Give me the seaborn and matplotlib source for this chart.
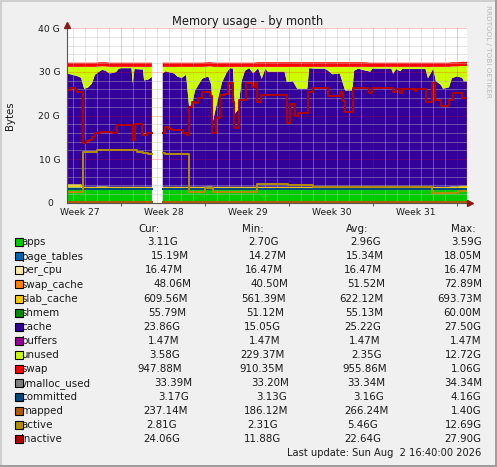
import matplotlib
matplotlib.use("Agg")
import matplotlib.pyplot as plt
from matplotlib import font_manager, ft2font
from matplotlib.patches import Rectangle
import numpy as np
import pandas as pd
import seaborn as sns

nan = np.nan

# ---- data (GB, days from the start of week 28) ----
stack_day = [-4.55, -4.1, -3.7, -3.35, -3.1, -2.8, -2.45, -2.2, -1.85, -1.6,
             -1.3, -1.0, -0.7, -0.45, -0.2, 0.0, 0.85, 0.95, 1.1, 1.8,
             1.9, 2.25, 2.55, 3.0, 3.45, 3.7, 4.05, 4.4, 4.7, 5.05,
             5.4, 5.65, 5.9, 6.15, 6.45, 6.75, 7.25, 7.5, 7.65, 7.8,
             8.05, 8.4, 8.8, 9.05, 9.3, 9.5, 9.75, 10.0, 10.3, 10.65,
             11.0, 11.4, 11.7, 12.0, 12.2, 13.6, 13.8, 14.3, 14.65, 15.5,
             15.65, 16.15, 17.0, 17.6, 18.2, 18.65, 19.25, 19.4, 19.75, 20.1,
             20.75, 20.9, 22.5, 22.65, 22.9, 23.25, 23.4, 25.35, 25.55, 26.0,
             26.2, 26.65, 26.8, 27.3, 27.55, 27.95, 28.4, 28.55, 28.8]

apps = [3.5, 3.5, 3.5, 3.5, 2.9, 2.9, 2.9, 2.9, 3.0, 3.0,
        3.0, 2.9, 2.9, 2.9, 2.9, 2.9, 2.9, 2.9, 2.9, 2.9,
        2.9, 2.9, 2.9, nan, 2.9, 2.9, 2.9, 2.9, 2.9, 2.9,
        2.9, 2.9, 2.9, 2.9, 2.9, 2.9, 3.0, 3.0, 2.9, 2.9,
        2.9, 2.9, 2.9, 2.9, 2.9, 2.9, 2.9, 2.9, 2.9, 2.9,
        2.9, 2.9, 2.9, 2.9, 2.9, 2.9, 2.9, 2.9, 2.9, 2.9,
        2.9, 2.9, 2.9, 2.9, 2.9, 2.9, 2.9, 2.9, 2.9, 2.9,
        2.9, 2.9, 2.9, 2.9, 2.9, 2.9, 2.9, 2.9, 2.9, 2.9,
        2.9, 2.9, 2.9, 2.9, 3.0, 3.0, 3.1, 3.1, 3.1]
page_tables = 0.015
per_cpu = 0.016
swap_cache = 0.05
slab_cache = 0.62
shmem = 0.055
cache = [25.4, 25.1, 24.8, 24.4, 22.5, 22.7, 23.7, 25.7, 26.3, 26.7,
         26.5, 26.0, 26.1, 26.3, 27.1, 27.2, 27.2, 23.7, 27.0, 26.9,
         24.4, 24.6, 25.2, nan, 26.0, 26.5, 26.2, 26.0, 25.2, 25.0,
         25.7, 18.3, 19.1, 22.1, 23.5, 24.8, 25.2, 23.3, 15.1, 17.1,
         20.2, 24.0, 26.3, 27.2, 27.1, 16.8, 17.8, 24.0, 26.6, 27.2,
         26.0, 27.2, 24.8, 27.1, 26.4, 26.4, 24.0, 24.2, 22.5, 22.5,
         27.2, 27.1, 27.1, 25.8, 26.0, 22.1, 22.1, 26.6, 27.1, 26.8,
         26.4, 27.1, 27.1, 25.9, 27.0, 26.5, 27.0, 27.0, 24.9, 27.1,
         24.3, 23.3, 22.5, 22.8, 24.8, 25.2, 24.8, 24.0, 24.0]
buffers = 0.0015
unused = [1.5, 1.8, 2.1, 2.5, 5.0, 4.8, 3.8, 1.8, 1.2, 0.8,
          1.0, 1.5, 1.4, 1.2, 0.4, 0.3, 0.3, 3.8, 0.5, 0.6,
          3.1, 2.9, 2.3, nan, 1.5, 1.0, 1.3, 1.5, 2.3, 2.5,
          1.8, 9.2, 8.4, 5.4, 4.0, 2.7, 2.3, 4.2, 12.4, 10.4,
          7.3, 3.5, 1.2, 0.3, 0.4, 10.7, 9.7, 3.5, 0.9, 0.3,
          1.5, 0.3, 2.7, 0.4, 1.1, 1.1, 3.5, 3.3, 5.0, 5.0,
          0.3, 0.4, 0.4, 1.7, 1.5, 5.4, 5.4, 0.9, 0.4, 0.7,
          1.1, 0.4, 0.4, 1.6, 0.5, 1.0, 0.5, 0.5, 2.6, 0.4,
          3.2, 4.2, 5.0, 4.7, 2.7, 2.3, 2.7, 3.5, 3.5]
swap = [0.95, 0.95, 0.95, 0.95, 0.95, 0.95, 0.95, 0.95, 0.95, 0.95,
        0.95, 0.95, 0.95, 0.95, 0.95, 0.95, 0.95, 0.95, 0.95, 0.95,
        0.95, 0.95, 0.95, nan, 0.95, 0.95, 0.95, 0.95, 0.95, 0.95,
        0.95, 0.95, 0.95, 0.95, 0.95, 0.95, 0.95, 0.95, 0.95, 0.95,
        0.95, 0.95, 0.95, 0.95, 0.95, 0.95, 0.95, 0.95, 0.95, 0.95,
        0.95, 1.06, 1.06, 1.06, 1.06, 1.06, 1.06, 1.06, 1.06, 1.06,
        1.06, 1.06, 1.06, 1.06, 1.06, 1.06, 1.06, 1.06, 1.06, 1.06,
        0.95, 0.95, 0.95, 0.95, 0.95, 0.95, 0.95, 0.95, 0.95, 0.95,
        0.95, 0.95, 0.95, 0.95, 0.95, 0.95, 0.95, 0.95, 0.95]

inactive_day = [-4.55, -4.3, -3.85, -3.7, -3.2, -2.95, -2.7, -2.45, -2.2, -1.8,
                -0.7, -0.35, 0.95, 1.15, 1.7, 2.15, 2.55, 3.0, 3.45, 3.65,
                3.9, 4.25, 5.15, 5.5, 5.65, 5.85, 6.15, 6.4, 6.75, 7.4,
                7.55, 7.9, 8.25, 8.65, 8.9, 9.3, 9.4, 9.8, 10.4, 10.9,
                11.15, 11.3, 11.65, 13.8, 14.05, 14.45, 14.7, 15.55, 15.95, 17.25,
                18.25, 18.5, 18.65, 19.3, 20.6, 20.9, 22.65, 22.9, 23.25, 23.4,
                24.5, 24.65, 25.4, 25.85, 26.15, 26.65, 27.3, 27.65, 28.4, 28.8]
inactive = [25.8, 26.2, 25.8, 25.4, 13.6, 14.2, 14.4, 15.1, 15.9, 16.3,
            16.0, 17.8, 14.4, 18.0, 15.5, 15.9, 15.9, nan, 16.0, 17.4,
            17.0, 16.6, 16.0, 15.5, 22.0, 23.0, 22.8, 23.9, 25.5, 24.4,
            15.9, 19.4, 24.6, 25.0, 27.4, 23.0, 17.1, 23.5, 27.4, 26.6,
            27.4, 23.0, 24.8, 18.2, 22.6, 19.8, 20.5, 25.5, 26.4, 24.4,
            25.5, 23.3, 20.9, 26.2, 25.2, 26.2, 25.3, 26.0, 25.2, 26.0,
            25.6, 26.0, 23.2, 27.4, 23.5, 22.1, 23.5, 25.2, 24.1, 24.1]

active_day = [-4.55, -3.2, -2.0, -1.8, 0.75, 1.3, 1.8, 2.25, 2.55, 3.0,
              3.45, 3.65, 5.65, 7.0, 7.6, 11.3, 13.9, 16.0, 25.9, 28.05, 28.8]
active = [2.5, 11.7, 12.1, 12.2, 12.0, 11.6, 11.3, 11.2, 11.2, nan,
          11.3, 11.1, 2.55, 3.3, 2.55, 4.3, 4.0, 3.6, 2.15, 2.65, 2.65]

flat_day = [-4.55, 2.55, 3.0, 3.45, 28.8]
committed = [3.16, 3.16, nan, 3.15, 3.17]
mapped = [0.27, 0.27, nan, 0.26, 0.24]
vmalloc_used = [0.033, 0.033, nan, 0.033, 0.033]

week_names = ["Week 27", "Week 28", "Week 29", "Week 30", "Week 31"]
week_start = [-7, 0, 7, 14, 21]

legend_names = ["apps", "page_tables", "per_cpu", "swap_cache", "slab_cache",
                "shmem", "cache", "buffers", "unused", "swap", "vmalloc_used",
                "committed", "mapped", "active", "inactive"]
legend_cur = ["3.11G", "15.19M", "16.47M", "48.06M", "609.56M", "55.79M", "23.86G",
              "1.47M", "3.58G", "947.88M", "33.39M", "3.17G", "237.14M", "2.81G", "24.06G"]
legend_min = ["2.70G", "14.27M", "16.47M", "40.50M", "561.39M", "51.12M", "15.05G",
              "1.47M", "229.37M", "910.35M", "33.20M", "3.13G", "186.12M", "2.31G", "11.88G"]
legend_avg = ["2.96G", "15.34M", "16.47M", "51.52M", "622.12M", "55.13M", "25.22G",
              "1.47M", "2.35G", "955.86M", "33.34M", "3.16G", "266.24M", "5.46G", "22.64G"]
legend_max = ["3.59G", "18.05M", "16.47M", "72.89M", "693.73M", "60.00M", "27.50G",
              "1.47M", "12.72G", "1.06G", "34.34M", "4.16G", "1.40G", "12.69G", "27.90G"]

colors = {"apps": "#00CC00", "page_tables": "#0066B3", "per_cpu": "#FFE8A0",
          "swap_cache": "#FF8000", "slab_cache": "#FFCC00", "shmem": "#008F00",
          "cache": "#330099", "buffers": "#990099", "unused": "#CCFF00",
          "swap": "#FF0000", "vmalloc_used": "#808080", "committed": "#00487D",
          "mapped": "#B35A00", "active": "#B38F00", "inactive": "#B30000"}

# ---- figure ----
W, H = 497, 467
TXT = "#1a1a1a"
fig = plt.figure(figsize=(W / 100, H / 100), dpi=100, facecolor="#F0F0F0")
ax = fig.add_axes([66.7 / W, 1 - 202.7 / H, 400 / W, 174.4 / H])
ax.set_facecolor("white")
XMIN, XMAX = -4.55, 28.78
ax.set_xlim(XMIN, XMAX)
ax.set_ylim(0, 40)

# stacked areas
stack = [("apps", apps), ("page_tables", page_tables), ("per_cpu", per_cpu),
         ("swap_cache", swap_cache), ("slab_cache", slab_cache), ("shmem", shmem),
         ("cache", cache), ("buffers", buffers), ("unused", unused), ("swap", swap)]
base = np.zeros(len(stack_day))
for name, vals in stack:
    top = base + np.asarray(vals, dtype=float)
    ax.fill_between(stack_day, base, top, color=colors[name], lw=0, zorder=1)
    base = top

# grid on top of the areas
for d in range(-4, 29):
    if d % 7:
        ax.axvline(d, color="#C0C0C0", lw=0.72, ls=(0, (1, 1)), alpha=0.8, zorder=1.5)
for g in range(2, 41, 2):
    if g % 10:
        ax.axhline(g, color="#C0C0C0", lw=0.72, ls=(0, (1, 1)), alpha=0.8, zorder=1.5)
for d in range(0, 29, 7):
    ax.axvline(d, color="#FF0000", lw=0.72, ls=(0, (1, 1)), alpha=0.45, zorder=1.6)
for g in range(10, 41, 10):
    ax.axhline(g, color="#FF0000", lw=0.72, ls=(0, (1, 1)), alpha=0.45, zorder=1.6)


def segments(name, day, val):
    df = pd.DataFrame({"day": day, "gb": val})
    df["segment"] = df["gb"].isna().cumsum()
    df["series"] = name
    return df.dropna()


line_order = ["vmalloc_used", "committed", "mapped", "active", "inactive"]
lines = pd.concat([
    segments("vmalloc_used", flat_day, vmalloc_used),
    segments("committed", flat_day, committed),
    segments("mapped", flat_day, mapped),
    segments("active", active_day, active),
    segments("inactive", inactive_day, inactive),
])
sns.lineplot(data=lines, x="day", y="gb", hue="series", hue_order=line_order,
             units="segment", estimator=None, palette=colors, legend=False,
             drawstyle="steps-post", linewidth=1.4, ax=ax)

# axes
for s in ["top", "right"]:
    ax.spines[s].set_visible(False)
for s in ["left", "bottom"]:
    ax.spines[s].set_color("#555555")
    ax.spines[s].set_linewidth(0.8)
ax.spines["bottom"].set_zorder(3)
ax.set_xticks([w + 3.55 for w in week_start], week_names)
ax.set_xticks(range(0, 29, 7), minor=True)
ax.set_yticks([0, 10, 20, 30, 40], ["0  ", "10 G", "20 G", "30 G", "40 G"])
ax.tick_params(axis="x", which="major", length=0, pad=3.8, labelsize=6.6, labelcolor=TXT)
ax.tick_params(axis="x", which="minor", length=2, width=0.8, color="#CC3333")
ax.tick_params(axis="y", length=0, pad=4.8, labelsize=6.6, labelcolor=TXT)
ax.set_xlabel("")
ax.set_ylabel("")
ax.plot([XMAX + 0.25], [0], marker=">", ms=4.5, color="#8B1A1A", clip_on=False, zorder=5)
ax.plot([XMIN], [40.8], marker="^", ms=4.5, color="#8B1A1A", clip_on=False, zorder=5)

# texts
fig.text(248 / W, 1 - 21 / H, "Memory usage - by month", ha="center", va="center",
         fontsize=8.3, color=TXT)
fig.text(10 / W, 1 - 115.5 / H, "Bytes", rotation=90, ha="center", va="center",
         fontsize=7.3, color=TXT)
fig.text(488 / W, 1 - 51 / H, "RRDTOOL / TOBI OETIKER", rotation=270, ha="center",
         va="center", fontsize=5.2, color="#B8B8B8")

# legend table, justified like rrdtool "\j"
FS = 7.4
font = ft2font.FT2Font(font_manager.findfont("DejaVu Sans"), hinting_factor=1)
font.set_size(FS, 100)


def adv(s):
    return sum(font.load_char(ord(c)).linearHoriAdvance for c in s) / 65536.0


X0, X1 = 15, 481


def place_row(y, items, lead, extra):
    widths = [adv(s) for s in items]
    widths[0] += lead + extra
    gap = (X1 - X0 - sum(widths)) / (len(items) - 1)
    x = X0
    for i, s in enumerate(items):
        start = x + (lead if i == 0 else 0)
        body = s.strip()
        if body:
            pre = adv(s[:len(s) - len(s.lstrip())])
            fig.text((start + pre) / W, 1 - (y + 3.5) / H, body, ha="left",
                     va="baseline", fontsize=FS, color=TXT)
        x += widths[i] + gap


def fmt(v):
    return v[:-1].rjust(6) + v[-1]


place_row(228.5, [" " * 12, " Cur:", "Min:", "Avg:", "Max:  "], 0, 0)
for i, name in enumerate(legend_names):
    y = 241.9 + 14.03 * i
    place_row(y, [name.ljust(12), fmt(legend_cur[i]), fmt(legend_min[i]),
                  fmt(legend_avg[i]), fmt(legend_max[i])], 6, 6)
    fig.add_artist(Rectangle((15 / W, 1 - (y + 4.5) / H), 8 / W, 8 / H,
                             transform=fig.transFigure, facecolor=colors[name],
                             edgecolor="black", lw=0.8, zorder=5))
fig.text(X1 / W, 1 - (452 + 3.5) / H, "Last update: Sun Aug  2 16:40:00 2026",
         ha="right", va="baseline", fontsize=7.15, color=TXT)

# image frame
fig.add_artist(Rectangle((0, 1 - 2 / H), 1, 2 / H, transform=fig.transFigure,
                         color="#CFCFCF", lw=0))
fig.add_artist(Rectangle((0, 0), 2 / W, 1, transform=fig.transFigure,
                         color="#CFCFCF", lw=0))
fig.add_artist(Rectangle((0, 0), 1, 2 / H, transform=fig.transFigure,
                         color="#9E9E9E", lw=0))
fig.add_artist(Rectangle((1 - 2 / W, 0), 2 / W, 1, transform=fig.transFigure,
                         color="#9E9E9E", lw=0))

fig.savefig("out.png", dpi=100, facecolor=fig.get_facecolor())
